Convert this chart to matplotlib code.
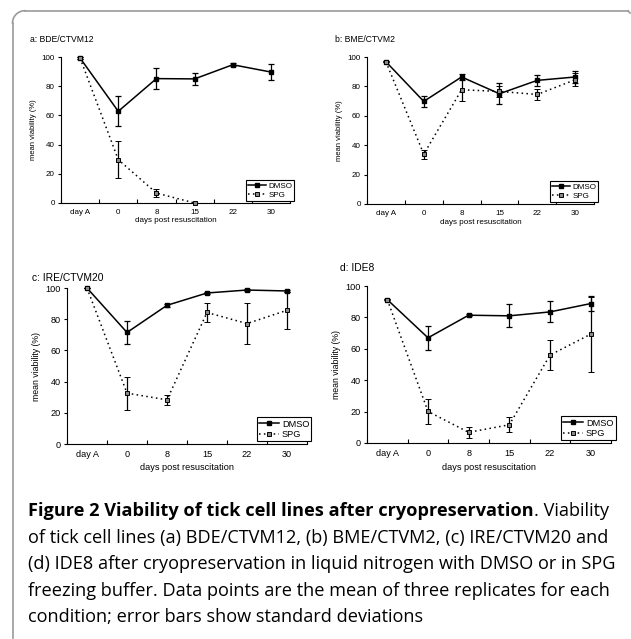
import numpy as np
import matplotlib
matplotlib.use('Agg')
import matplotlib.pyplot as plt
from matplotlib.lines import Line2D

days = ['day A', '0', '8', '15', '22', '30']
titles = ['a: BDE/CTVM12', 'b: BME/CTVM2', 'c: IRE/CTVM20', 'd: IDE8']

# mean viability (%) and standard deviation
dmso_a = [99.3, 62.8, 85.2, 85.0, 94.7, 89.7]
dmso_a_sd = [0.5, 10.2, 7.2, 4.2, 1.0, 5.3]
spg_a = [99.3, 29.7, 6.8, 0.0, np.nan, np.nan]
spg_a_sd = [0.5, 12.5, 3.0, 0.3, np.nan, np.nan]

dmso_b = [96.8, 69.8, 86.4, 75.0, 84.1, 86.4]
dmso_b_sd = [0.5, 3.6, 1.9, 7.2, 3.6, 4.1]
spg_b = [96.8, 33.9, 77.7, 76.6, 74.5, 84.5]
spg_b_sd = [0.5, 3.0, 7.7, 4.0, 3.6, 4.5]

dmso_c = [100.0, 71.5, 88.9, 96.8, 98.7, 98.1]
dmso_c_sd = [0.3, 7.4, 1.0, 0.8, 0.6, 0.8]
spg_c = [100.0, 32.6, 28.3, 84.3, 77.2, 85.7]
spg_c_sd = [0.3, 10.5, 3.4, 5.9, 13.0, 12.0]

dmso_d = [91.3, 67.0, 81.4, 81.0, 83.5, 88.8]
dmso_d_sd = [0.5, 7.5, 0.8, 7.3, 6.7, 4.8]
spg_d = [91.3, 20.1, 6.8, 11.6, 56.0, 69.3]
spg_d_sd = [0.5, 8.0, 3.4, 4.7, 9.8, 24.0]

dmso_all = [(dmso_a, dmso_a_sd), (dmso_b, dmso_b_sd), (dmso_c, dmso_c_sd), (dmso_d, dmso_d_sd)]
spg_all = [(spg_a, spg_a_sd), (spg_b, spg_b_sd), (spg_c, spg_c_sd), (spg_d, spg_d_sd)]

caption_bold = 'Figure 2 Viability of tick cell lines after cryopreservation'
caption_rest = '. Viability'
caption_lines = ['of tick cell lines (a) BDE/CTVM12, (b) BME/CTVM2, (c) IRE/CTVM20 and',
                 '(d) IDE8 after cryopreservation in liquid nitrogen with DMSO or in SPG',
                 'freezing buffer. Data points are the mean of three replicates for each',
                 'condition; error bars show standard deviations']

W, H = 631, 639
fig = plt.figure(figsize=(W / 100, H / 100), dpi=100)
plt.rcParams['font.family'] = ['Liberation Sans', 'DejaVu Sans']

# axes boxes in pixels: left, right, top, bottom
boxes = [(61, 290, 57, 203), (367, 594, 57, 204), (67, 307, 288, 444), (367, 611, 286, 443)]
title_pos = [(30, 40), (335, 40), (32, 278), (340, 268)]
title_fs = [6.2, 6.2, 7.4, 7.4]
xlab_y = [221, 222, 468, 468]
fs = [5.8, 5.8, 6.6, 6.6]

spg_style = dict(color='black', lw=1.1, ls=(0, (1, 2.2)), marker='s', ms=3.2,
                 mfc='#888888', mec='black', mew=0.7)
dmso_style = dict(color='black', lw=1.1, ls='-', marker='s', ms=3.2, mfc='black', mec='black')

x = np.arange(len(days))
for i in range(4):
    l, r, t, b = boxes[i]
    ax = fig.add_axes([l / W, 1 - b / H, (r - l) / W, (b - t) / H])
    m, sd = dmso_all[i]
    ax.errorbar(x, m, yerr=sd, ecolor='black', elinewidth=0.9, capsize=2.2,
                capthick=0.9, zorder=3, clip_on=False, **dmso_style)
    m, sd = spg_all[i]
    ax.errorbar(x, m, yerr=sd, ecolor='black', elinewidth=0.9, capsize=2.2,
                capthick=0.9, zorder=3, clip_on=False, **spg_style)
    ax.set_xlim(-0.5, len(days) - 0.5)
    ax.set_ylim(0, 100)
    ax.set_yticks(np.arange(0, 101, 20))
    ax.set_xticks(np.arange(-0.5, len(days), 1.0))
    ax.set_xticklabels([])
    ax.set_xticks(x, minor=True)
    ax.set_xticklabels(days, minor=True)
    ax.tick_params(axis='x', which='major', direction='in', length=3, width=0.8)
    ax.tick_params(axis='x', which='minor', length=0, labelsize=fs[i], pad=4)
    ax.tick_params(axis='y', direction='out', length=2.5, width=0.8, labelsize=fs[i], pad=2)
    for s in ['top', 'right']:
        ax.spines[s].set_visible(False)
    for s in ['left', 'bottom']:
        ax.spines[s].set_linewidth(0.8)
    ax.set_ylabel('mean viability (%)', fontsize=fs[i] - 0.3, labelpad=3)
    fig.text(((l + r) / 2) / W, 1 - xlab_y[i] / H, 'days post resuscitation',
             fontsize=fs[i], ha='center', va='center')
    fig.text(title_pos[i][0] / W, 1 - title_pos[i][1] / H, titles[i],
             fontsize=title_fs[i], ha='left', va='center')
    handles = [Line2D([], [], **dmso_style), Line2D([], [], **spg_style)]
    leg = ax.legend(handles, ['DMSO', 'SPG'], loc='lower right', bbox_to_anchor=(1.03, 0.0),
                    fontsize=fs[i], handlelength=2.2, handletextpad=0.3, borderpad=0.25,
                    labelspacing=0.15, fancybox=False, framealpha=1, borderaxespad=0.3)
    leg.get_frame().set_edgecolor('black')
    leg.get_frame().set_linewidth(0.8)

# frame lines around the figure
gray = '#9a9a9a'
fig.add_artist(Line2D([25 / W, 628 / W], [1 - 10.7 / H, 1 - 10.7 / H], color=gray, lw=1.2))
fig.add_artist(Line2D([628 / W, 630 / W], [1 - 10.7 / H, 1 - 13 / H], color=gray, lw=1.2))
fig.add_artist(Line2D([12.5 / W, 12.5 / W], [1 - 23 / H, 1 - 638 / H], color=gray, lw=1.2))
t = np.linspace(np.pi / 2, np.pi, 20)
fig.add_artist(Line2D((25 + 12.5 * np.cos(t)) / W, 1 - (23 - 12.3 * np.sin(t)) / H,
                      color=gray, lw=1.2))

# caption, font size fitted so the first line spans the measured width
cfont = ['Open Sans', 'DejaVu Sans']
r = fig.canvas.get_renderer()
f0 = 10.0
t1 = fig.text(0, 0, caption_bold, fontsize=f0, fontweight='bold', family=cfont)
t2 = fig.text(0, 0, caption_rest, fontsize=f0, family=cfont)
wid = t1.get_window_extent(renderer=r).width + t2.get_window_extent(renderer=r).width
t1.remove()
t2.remove()
cfs = f0 * (613 - 28) / wid

x0 = 28
tb = fig.text(x0 / W, 1 - 516 / H, caption_bold, fontsize=cfs, fontweight='bold',
              family=cfont, ha='left', va='baseline')
bb = tb.get_window_extent(renderer=r)
fig.text(bb.x1 / W, 1 - 516 / H, caption_rest, fontsize=cfs, family=cfont,
         ha='left', va='baseline')
for k, line in enumerate(caption_lines):
    fig.text(x0 / W, 1 - (542.5 + 26.5 * k) / H, line, fontsize=cfs, family=cfont,
             ha='left', va='baseline')

fig.savefig('out.png', dpi=100)
